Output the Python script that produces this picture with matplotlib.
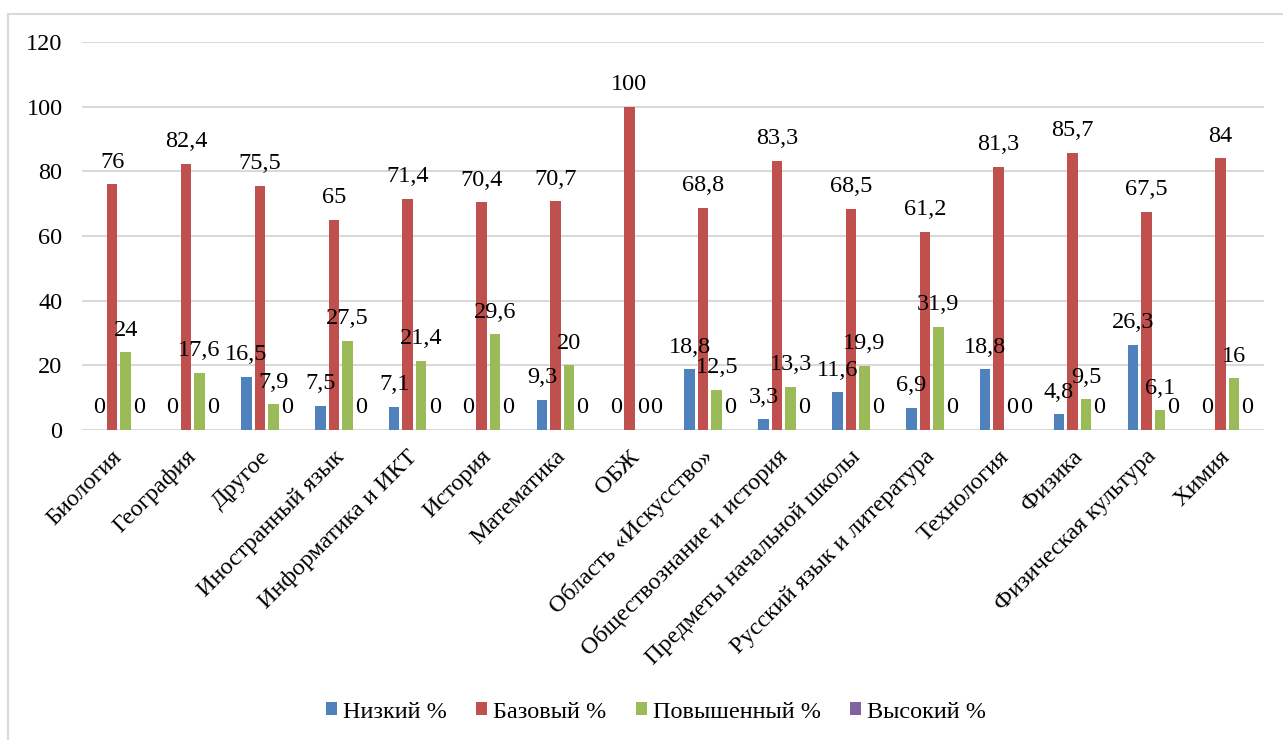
import numpy as np
import matplotlib.pyplot as plt
from matplotlib.patches import Rectangle

plt.rcParams['font.family'] = 'serif'
plt.rcParams['font.serif'] = ['Liberation Serif', 'DejaVu Serif']

subjects = [
    "Биология", "География", "Другое", "Иностранный язык",
    "Информатика и ИКТ", "История", "Математика", "ОБЖ",
    "Область «Искусство»", "Обществознание и история",
    "Предметы начальной школы", "Русский язык и литература",
    "Технология", "Физика", "Физическая культура", "Химия",
]
low = [0, 0, 16.5, 7.5, 7.1, 0, 9.3, 0, 18.8, 3.3, 11.6, 6.9, 18.8, 4.8, 26.3, 0]
base = [76, 82.4, 75.5, 65, 71.4, 70.4, 70.7, 100, 68.8, 83.3, 68.5, 61.2, 81.3, 85.7, 67.5, 84]
raised = [24, 17.6, 7.9, 27.5, 21.4, 29.6, 20, 0, 12.5, 13.3, 19.9, 31.9, 0, 9.5, 6.1, 16]
high = [0] * 16

series = [
    ("Низкий %", low, "#4F81BD"),
    ("Базовый %", base, "#C0504D"),
    ("Повышенный %", raised, "#9BBB59"),
    ("Высокий %", high, "#8064A2"),
]

FS = 17.5


def fmt(v):
    return f"{v:g}".replace(".", ",")


fig = plt.figure(figsize=(12.83, 7.4), dpi=100)
ax = fig.add_axes([82 / 1283, 1 - 430 / 740, (1264 - 82) / 1283, (430 - 42) / 740])

# frame of the chart area (only top and left edges are visible)
fig.patches.append(Rectangle((8 / 1283, -0.1), 1.2, 1 - 14 / 740 + 0.1,
                             transform=fig.transFigure, fill=False,
                             edgecolor="#D9D9D9", linewidth=1.5))

x = np.arange(len(subjects))
slot = 0.183
width = 0.142
for i, (name, vals, color) in enumerate(series):
    pos = x + (i - 1.5) * slot
    ax.bar(pos, vals, width, color=color, label=name, zorder=3)
    for px, v in zip(pos, vals):
        ax.annotate(fmt(v), (px, v), xytext=(0, 12), textcoords="offset points",
                    ha="center", va="baseline", fontsize=FS, zorder=4)

ax.set_xlim(-0.5, len(subjects) - 0.5)
ax.set_ylim(0, 120)
ax.set_yticks(range(0, 121, 20))
ax.yaxis.grid(True, color="#D9D9D9", linewidth=1.5, zorder=0)
for sp in ax.spines.values():
    sp.set_visible(False)
ax.tick_params(axis="both", length=0, labelsize=FS)
ax.tick_params(axis="y", pad=14)
ax.set_xticks(x)
ax.set_xticklabels(subjects, rotation=45, ha="right", va="center",
                   rotation_mode="anchor")
ax.tick_params(axis="x", pad=17)

fig.legend(loc="center", bbox_to_anchor=(656 / 1283, 1 - 712 / 740), ncol=4,
           frameon=False, fontsize=FS, handlelength=0.45, handleheight=0.45,
           handletextpad=0.25, columnspacing=1.2)

fig.savefig("out.png", dpi=100)
